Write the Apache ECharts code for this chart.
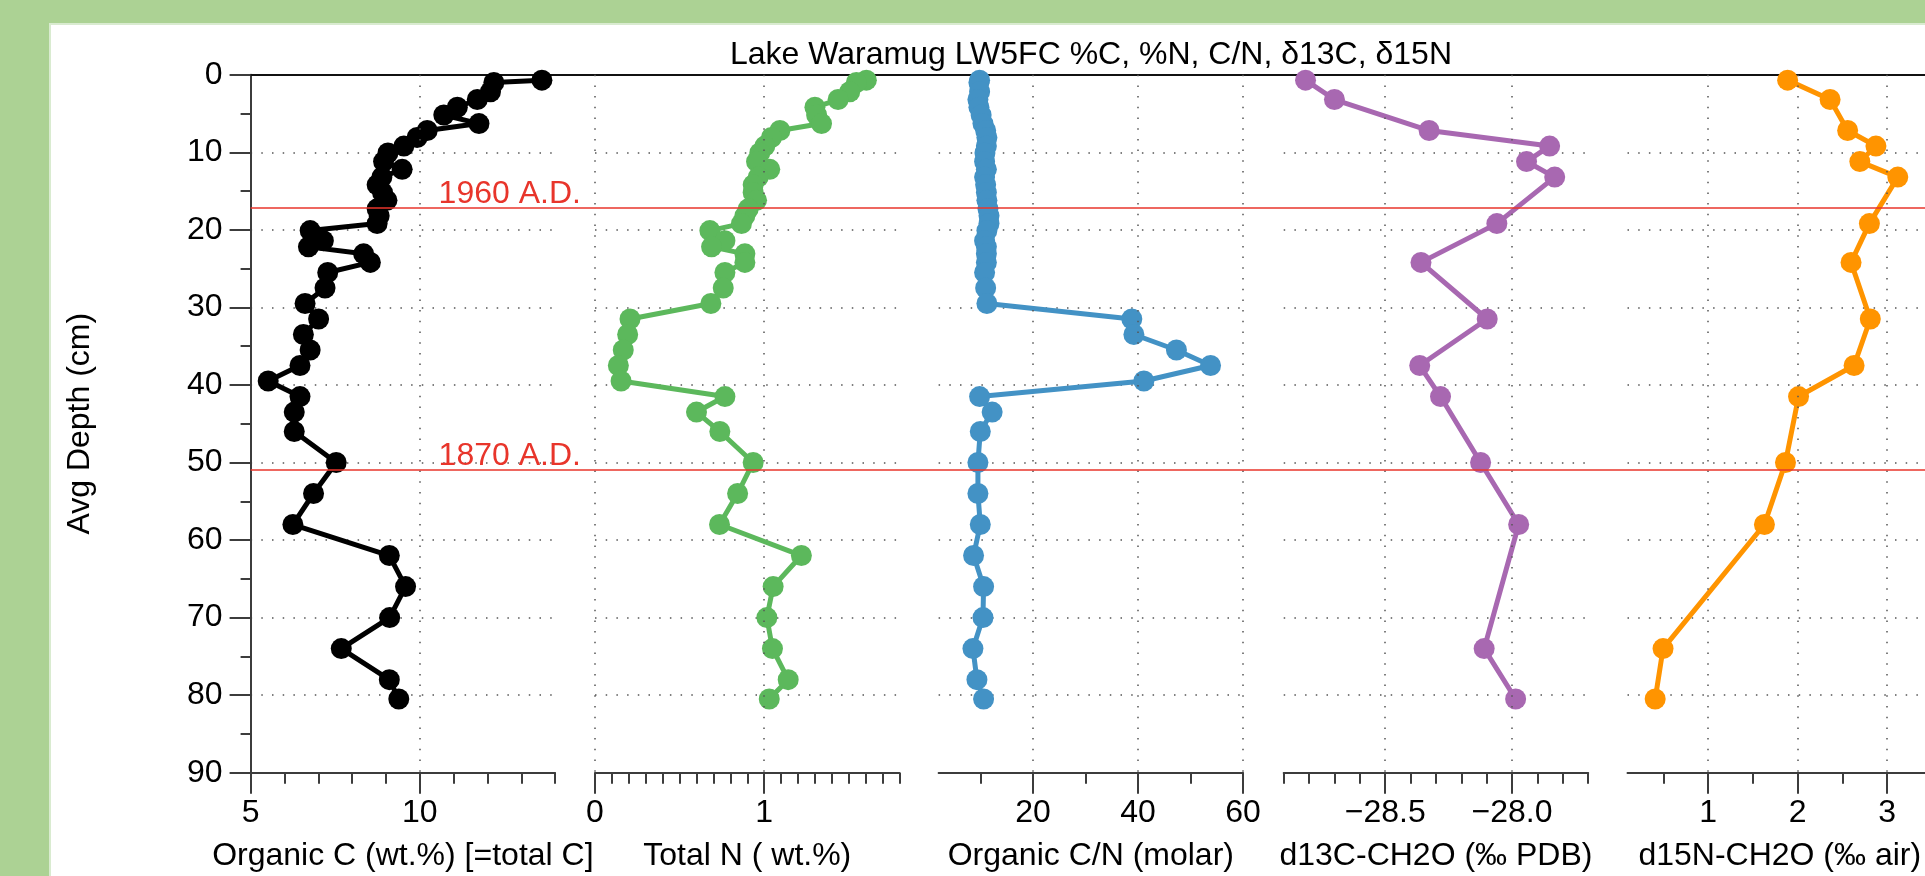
<!DOCTYPE html>
<html>
<head>
<meta charset="utf-8">
<title>Lake Waramug LW5FC</title>
<script src="https://cdn.jsdelivr.net/npm/echarts@6/dist/echarts.min.js"></script>
<style>
html, body { margin: 0; padding: 0; background: #acd294; overflow: hidden; }
#sheet { position: absolute; left: 49px; top: 23px; width: 1900px; height: 900px; background: #fff;
         border-top: 2px solid #d9ebd0; border-left: 2px solid #d9ebd0; }
#chart { position: absolute; left: 0; top: 0; width: 1925px; height: 876px; }
</style>
</head>
<body>
<div id="sheet"></div>
<div id="chart"></div>
<script>
// core depths (cm) for %C, %N and C/N
var depth = [0.7, 1.0, 2.2, 3.2, 4.2, 5.2, 6.3, 7.2, 8.1, 9.2,
             10.1, 11.2, 12.2, 13.2, 14.2, 15.2, 16.2, 17.3, 18.2, 19.2,
             20.1, 21.4, 22.2, 23.1, 24.2, 25.5, 27.5, 29.5, 31.5, 33.5,
             35.5, 37.5, 39.5, 41.5, 43.5, 46, 50, 54, 58, 62,
             66, 70, 74, 78, 80.5];
var orgC = [13.61, 12.19, 12.09, 11.70, 11.11, 10.71, 11.75, 10.22, 9.92, 9.53,
            9.06, 8.93, 9.48, 8.88, 8.74, 8.90, 9.03, 8.74, 8.80, 8.74,
            6.76, 7.15, 6.71, 8.34, 8.54, 7.28, 7.20, 6.61, 7.01, 6.56,
            6.76, 6.46, 5.52, 6.46, 6.29, 6.29, 7.53, 6.86, 6.25, 9.10,
            9.58, 9.11, 7.68, 9.10, 9.38];
var totN = [1.604, 1.545, 1.506, 1.437, 1.30, 1.31, 1.339, 1.093, 1.043, 1.004,
            0.974, 0.955, 1.033, 0.965, 0.935, 0.935, 0.955, 0.906, 0.886, 0.866,
            0.679, 0.768, 0.689, 0.886, 0.886, 0.768, 0.758, 0.685, 0.207, 0.193,
            0.167, 0.138, 0.154, 0.768, 0.600, 0.738, 0.935, 0.843, 0.736, 1.220,
            1.053, 1.016, 1.049, 1.142, 1.030];
var cnRatio = [9.81, 9.68, 9.81, 9.49, 9.68, 10.1, 10.45, 10.96, 11.2, 11.1,
               10.83, 10.76, 11.1, 10.76, 10.96, 11.1, 11.2, 11.4, 11.6, 11.6,
               11.2, 10.76, 11.1, 11.1, 11.1, 10.76, 10.96, 11.2, 38.8, 39.2,
               47.3, 53.8, 41.1, 9.81, 12.2, 9.94, 9.49, 9.49, 9.94, 8.66,
               10.57, 10.45, 8.54, 9.30, 10.57];
// isotope samples
var isoDepth = [0.7, 3.2, 7.2, 9.2, 11.2, 13.2, 19.2, 24.2, 31.5, 37.5, 41.5, 50, 58, 74, 80.5];
var d13C = [-28.814, -28.70, -28.327, -27.852, -27.943, -27.832, -28.06, -28.359,
            -28.098, -28.364, -28.282, -28.124, -27.974, -28.11, -27.986];
var d15N = [1.888, 2.362, 2.558, 2.874, 2.694, 3.118, 2.801, 2.596,
            2.811, 2.63, 2.01, 1.864, 1.629, 0.497, 0.409];
// dated horizons
var dateDepth = [17.2, 51];
var dateLabel = ['1960 A.D.', '1870 A.D.'];

// tick labels per panel
var cMajor = [5, 10], cMinor = [6, 7, 8, 9, 11, 12, 13, 14];
var nMajor = [0, 1], nMinor = [0.1, 0.2, 0.3, 0.4, 0.5, 0.6, 0.7, 0.8, 0.9, 1.1, 1.2, 1.3, 1.4, 1.5, 1.6, 1.7, 1.8];
var cnMajor = [20, 40, 60], cnMinor = [10, 30, 50];
var c13Major = [-28.5, -28.0], c13Minor = [-28.9, -28.8, -28.7, -28.6, -28.4, -28.3, -28.2, -28.1, -27.9, -27.8, -27.7];
var n15Major = [1, 2, 3], n15Minor = [0.5, 1.5, 2.5, 3.5];

var FONT = '"Liberation Sans", Arial, Helvetica, sans-serif';
var FS = 32;
var AXIS = '#3c3c3c';
var RED = '#e8352b';
var DOT = { color: '#555', width: 1.5, type: [1.5, 9.2] };
var TOP = 74.7, H = 698, W = 304.5;

function minus(v) { return String(v).replace('-', '\u2212'); }
function plain(v) { return String(v); }

var panels = [
  { left: 250.6, min: 5, max: 14, major: cMajor, minor: cMinor, grid: [10],
    name: 'Organic C (wt.%) [=total C]', color: '#000000', x: orgC, y: depth, fmt: plain },
  { left: 595, min: 0, max: 1.8, major: nMajor, minor: nMinor, grid: [0, 1],
    name: 'Total N ( wt.%)', color: '#5cb85c', x: totN, y: depth, fmt: plain },
  { left: 938.6, min: 2, max: 60, major: cnMajor, minor: cnMinor, grid: [20, 40, 60],
    name: 'Organic C/N (molar)', color: '#4392c5', x: cnRatio, y: depth, fmt: plain },
  { left: 1283.7, min: -28.9, max: -27.7, major: c13Major, minor: c13Minor, grid: [-28.5, -28.0],
    name: 'd13C-CH2O (\u2030 PDB)', color: '#a868b1', x: d13C, y: isoDepth,
    fmt: function (v) { return minus(v.toFixed(1)); } },
  { left: 1627.5, min: 0.1, max: 3.5, major: n15Major, minor: n15Minor, grid: [1, 2, 3],
    name: 'd15N-CH2O (\u2030 air)', color: '#ff9400', x: d15N, y: isoDepth, fmt: plain }
];
var NP = panels.length;

function gridAt(left, width) {
  return { left: left, top: TOP, width: width, height: H, containLabel: false, outerBoundsMode: 'none' };
}

var grids = [], xAxes = [], yAxes = [], series = [];

// main panels: grids 0..4
panels.forEach(function (p, i) {
  grids.push(gridAt(p.left, W));
  xAxes.push({
    gridIndex: i, type: 'value', min: p.min, max: p.max, position: 'bottom',
    axisLine: { show: true, onZero: false, lineStyle: { color: AXIS, width: 2 } },
    axisTick: { show: true, customValues: p.major, length: 21, lineStyle: { color: AXIS, width: 2 } },
    axisLabel: { show: true, customValues: p.major, margin: 24, fontSize: FS, color: '#000',
                 fontFamily: FONT, formatter: p.fmt },
    splitLine: { show: false },
    name: p.name, nameLocation: 'middle', nameGap: 67,
    nameTextStyle: { fontSize: FS, color: '#000', fontFamily: FONT }
  });
  var y = {
    gridIndex: i, type: 'value', inverse: true, min: 0, max: 90, interval: 10,
    splitLine: { show: true, lineStyle: DOT }
  };
  if (i === 0) {
    y.axisLine = { show: true, onZero: false, lineStyle: { color: AXIS, width: 2 } };
    y.axisTick = { show: true, length: 21, lineStyle: { color: AXIS, width: 2 } };
    y.minorTick = { show: true, splitNumber: 2, length: 10, lineStyle: { color: AXIS, width: 2 } };
    y.axisLabel = { show: true, margin: 28, fontSize: FS, color: '#000', fontFamily: FONT };
    y.name = 'Avg Depth (cm)';
    y.nameLocation = 'middle';
    y.nameGap = 154;
    y.nameTextStyle = { fontSize: FS, color: '#000', fontFamily: FONT };
  } else {
    y.axisLine = { show: false, onZero: false };
    y.axisTick = { show: false };
    y.axisLabel = { show: false };
  }
  yAxes.push(y);

  // vertical dotted grid lines
  series.push({
    type: 'line', xAxisIndex: i, yAxisIndex: i, data: [], z: 1, silent: true,
    markLine: {
      silent: true, symbol: ['none', 'none'], animation: false,
      label: { show: false }, lineStyle: DOT,
      emphasis: { disabled: true },
      data: p.grid.map(function (v) { return { xAxis: v }; })
    }
  });
  series.push({
    type: 'line', name: p.name, xAxisIndex: i, yAxisIndex: i, z: 3,
    symbol: 'circle', symbolSize: 21, showSymbol: true, showAllSymbol: true, clip: false,
    lineStyle: { color: p.color, width: 5 },
    itemStyle: { color: p.color },
    emphasis: { disabled: true },
    data: p.y.map(function (d, k) { return [p.x[k], d]; })
  });
});

// minor-tick twins: grids 5..9, same rectangles
panels.forEach(function (p, i) {
  grids.push(gridAt(p.left, W));
  xAxes.push({
    gridIndex: NP + i, type: 'value', min: p.min, max: p.max, position: 'bottom',
    axisLine: { show: false, onZero: false },
    axisTick: { show: true, customValues: p.minor, length: 11, lineStyle: { color: AXIS, width: 2 } },
    axisLabel: { show: false }, splitLine: { show: false }
  });
  yAxes.push({ gridIndex: NP + i, type: 'value', inverse: true, min: 0, max: 90, show: false,
               axisLine: { onZero: false } });
});

// overlay: top frame line and dated horizons across all panels (grid 10)
var OV = 2 * NP;
grids.push(gridAt(250.6, 1700));
xAxes.push({
  gridIndex: OV, type: 'value', min: 0, max: 1, position: 'top',
  axisLine: { show: true, onZero: false, lineStyle: { color: '#111', width: 2 } },
  axisTick: { show: false }, axisLabel: { show: false }, splitLine: { show: false }
});
yAxes.push({ gridIndex: OV, type: 'value', inverse: true, min: 0, max: 90, show: false,
             axisLine: { onZero: false } });
series.push({
  type: 'line', xAxisIndex: OV, yAxisIndex: OV, data: [], z: 4, silent: true,
  markLine: {
    silent: true, symbol: ['none', 'none'], animation: false,
    lineStyle: { color: RED, width: 1.5, type: 'solid' },
    label: { show: true, position: 'insideStartTop', distance: [188, -2], formatter: '{b}',
             color: RED, fontSize: FS, fontFamily: FONT },
    emphasis: { disabled: true },
    data: dateDepth.map(function (d, k) { return { yAxis: d, name: dateLabel[k] }; })
  }
});

var chart = echarts.init(document.getElementById('chart'), null, { renderer: 'canvas' });
chart.setOption({
  animation: false,
  backgroundColor: 'transparent',
  title: {
    text: 'Lake Waramug LW5FC %C, %N, C/N, \u03b413C, \u03b415N',
    left: 1091, top: 39, padding: 0, textAlign: 'center',
    textStyle: { fontSize: FS, fontWeight: 'normal', color: '#000', fontFamily: FONT }
  },
  grid: grids,
  xAxis: xAxes,
  yAxis: yAxes,
  series: series
});
</script>
</body>
</html>
